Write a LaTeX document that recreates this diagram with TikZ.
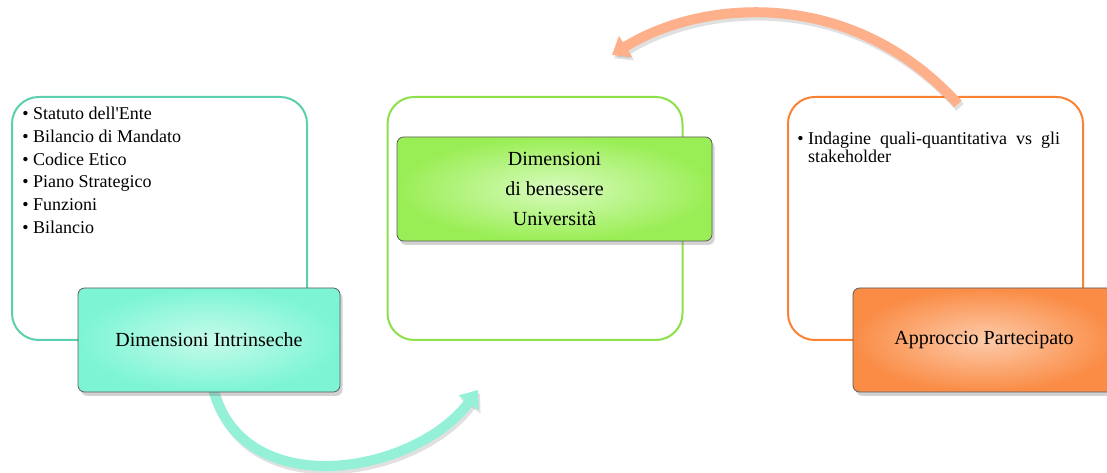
\documentclass[tikz,border=0pt]{standalone}
\usepackage{fontspec}
\setmainfont{Liberation Serif}
\usetikzlibrary{arrows.meta, shadows}

\begin{document}
\begin{tikzpicture}[x=0.75pt, y=-0.75pt,
  outerbox/.style={draw, line width=1.5pt, rounded corners=20pt, fill=white,
    minimum width=221.25pt, minimum height=182.25pt, inner sep=0pt},
  labelbox/.style={draw=black!65, line width=0.6pt, rounded corners=5pt,
    minimum width=196.5pt, minimum height=78pt, align=center,
    font=\fontsize{15}{22.5}\selectfont,
    drop shadow={opacity=0.35, shadow xshift=2pt, shadow yshift=-3pt}},
  itemlist/.style={anchor=base west, inner sep=0pt, align=left},
  cyclearrow/.style={line width=7.5pt, -{Triangle[width=18pt, length=12pt]},
    preaction={draw=black, opacity=0.12, line width=7.5pt,
      transform canvas={shift={(1.5pt,-2.5pt)}}}}]

%colours
\definecolor{intrline}{HTML}{5CCFAE}
\definecolor{intrfill}{HTML}{7DF5D5}
\definecolor{intrlight}{HTML}{C6FBEA}
\definecolor{benline}{HTML}{8CE04A}
\definecolor{benfill}{HTML}{9AEE55}
\definecolor{benlight}{HTML}{D8FBBE}
\definecolor{partline}{HTML}{FA8232}
\definecolor{partfill}{HTML}{FA8C46}
\definecolor{partlight}{HTML}{FDCBAA}
\definecolor{intrarrow}{HTML}{94F1D8}
\definecolor{partarrow}{HTML}{FDB089}

\useasboundingbox (0,0) rectangle (1107,473);

%outer boxes
  \node[outerbox, draw=intrline] (intr) at (159.5,218.5) {};
  \node[outerbox, draw=benline]  (ben)  at (535,218.5) {};
  \node[outerbox, draw=partline] (part) at (935.5,218.5) {};

%lists
  \node[itemlist, font=\fontsize{13.5}{17}\selectfont] (intrlist) at (22,120)
    {\begin{tabular}[t]{@{}l@{\hspace{3.5pt}}l@{}}
      \textbullet & Statuto dell\textquotesingle Ente\\
      \textbullet & Bilancio di Mandato\\
      \textbullet & Codice Etico\\
      \textbullet & Piano Strategico\\
      \textbullet & Funzioni\\
      \textbullet & Bilancio
    \end{tabular}};
  \node[itemlist, font=\fontsize{13.5}{12.75}\selectfont] (partlist) at (797,145)
    {\begin{tabular}[t]{@{}l@{\hspace{3.5pt}}l@{}}
      \textbullet & Indagine\ \ quali-quantitativa\ \ vs\ \ gli\\
      & stakeholder
    \end{tabular}};

%arrows
  \coordinate (intrstart) at (212,385);
  \coordinate (intrend)   at (478,390);
  \coordinate (partstart) at (958,104);
  \coordinate (partend)   at (612,55);
  \draw[cyclearrow, intrarrow] (intrstart) .. controls (240,505) and (415,475) .. (intrend);
  \draw[cyclearrow, partarrow] (partstart) .. controls (850,-15) and (700,0) .. (partend);

%label boxes
  \node[labelbox, inner color=intrlight, outer color=intrfill] (intrlabel) at (209,340)
    {Dimensioni Intrinseche};
  \node[labelbox, minimum width=236.25pt, inner color=benlight, outer color=benfill] (benlabel) at (554.5,189)
    {Dimensioni\\ di benessere\\ Università};
  \node[labelbox, inner color=partlight, outer color=partfill] (partlabel) at (984,340)
    {Approccio Partecipato};
\end{tikzpicture}
\end{document}
